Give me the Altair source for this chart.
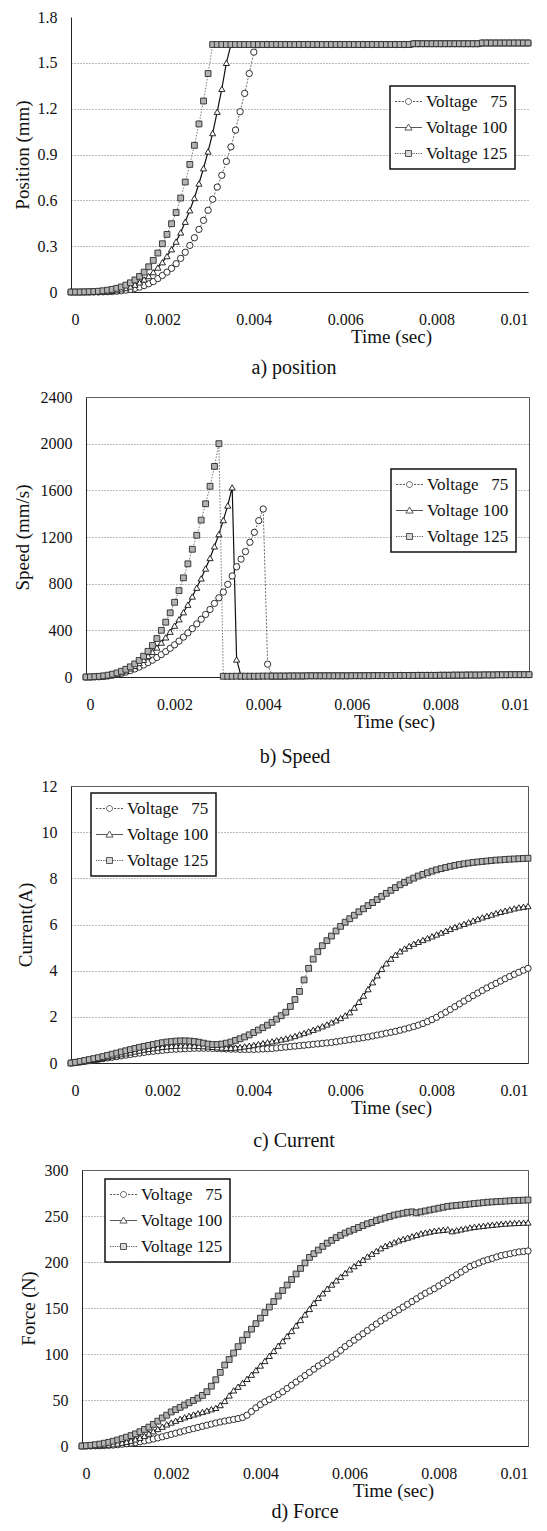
import altair as alt
import pandas as pd

FONT = "Liberation Serif"

# sampling grid: 0 .. 0.01 s every 0.0001 s
time_s = [round(i * 0.0001, 4) for i in range(101)]
series_names = ["Voltage \u200775", "Voltage 100", "Voltage 125"]
x_ticks = [0, 0.002, 0.004, 0.006, 0.008, 0.01]

# ---------------- a) position (mm) ----------------
pos75 = [
    0, 0, 0, 0, 0, 0, 0, 0.001, 0.002, 0.003,
    0.005, 0.008, 0.012, 0.017, 0.024, 0.032, 0.042, 0.054, 0.068, 0.088,
    0.108, 0.13, 0.155, 0.185, 0.22, 0.26, 0.305, 0.355, 0.41, 0.469,
    0.535, 0.607, 0.687, 0.764, 0.855, 0.95, 1.06, 1.18, 1.3, 1.43,
    1.57, 1.62, 1.62, 1.62, 1.62, 1.62, 1.62, 1.62, 1.62, 1.62,
    1.62, 1.62, 1.62, 1.62, 1.62, 1.62, 1.62, 1.62, 1.62, 1.62,
    1.62, 1.62, 1.62, 1.62, 1.62, 1.62, 1.62, 1.62, 1.62, 1.62,
    1.62, 1.62, 1.62, 1.62, 1.62, 1.625, 1.625, 1.625, 1.625, 1.625,
    1.625, 1.625, 1.625, 1.625, 1.625, 1.625, 1.625, 1.625, 1.625, 1.625,
    1.63, 1.63, 1.63, 1.63, 1.63, 1.63, 1.63, 1.63, 1.63, 1.63,
    1.63]
pos100 = [
    0, 0, 0, 0, 0, 0.001, 0.002, 0.003, 0.005, 0.008,
    0.012, 0.018, 0.026, 0.036, 0.048, 0.063, 0.082, 0.104, 0.13, 0.16,
    0.195, 0.235, 0.28, 0.33, 0.39, 0.46, 0.535, 0.615, 0.71, 0.81,
    0.92, 1.04, 1.18, 1.33, 1.5, 1.62, 1.62, 1.62, 1.62, 1.62,
    1.62, 1.62, 1.62, 1.62, 1.62, 1.62, 1.62, 1.62, 1.62, 1.62,
    1.62, 1.62, 1.62, 1.62, 1.62, 1.62, 1.62, 1.62, 1.62, 1.62,
    1.62, 1.62, 1.62, 1.62, 1.62, 1.62, 1.62, 1.62, 1.62, 1.62,
    1.62, 1.62, 1.62, 1.62, 1.62, 1.625, 1.625, 1.625, 1.625, 1.625,
    1.625, 1.625, 1.625, 1.625, 1.625, 1.625, 1.625, 1.625, 1.625, 1.625,
    1.63, 1.63, 1.63, 1.63, 1.63, 1.63, 1.63, 1.63, 1.63, 1.63,
    1.63]
pos125 = [
    0, 0, 0, 0.001, 0.002, 0.003, 0.005, 0.008, 0.012, 0.017,
    0.024, 0.033, 0.045, 0.06, 0.079, 0.102, 0.13, 0.165, 0.207, 0.255,
    0.316, 0.377, 0.447, 0.52, 0.615, 0.72, 0.835, 0.96, 1.1, 1.25,
    1.43, 1.62, 1.62, 1.62, 1.62, 1.62, 1.62, 1.62, 1.62, 1.62,
    1.62, 1.62, 1.62, 1.62, 1.62, 1.62, 1.62, 1.62, 1.62, 1.62,
    1.62, 1.62, 1.62, 1.62, 1.62, 1.62, 1.62, 1.62, 1.62, 1.62,
    1.62, 1.62, 1.62, 1.62, 1.62, 1.62, 1.62, 1.62, 1.62, 1.62,
    1.62, 1.62, 1.62, 1.62, 1.62, 1.625, 1.625, 1.625, 1.625, 1.625,
    1.625, 1.625, 1.625, 1.625, 1.625, 1.625, 1.625, 1.625, 1.625, 1.625,
    1.63, 1.63, 1.63, 1.63, 1.63, 1.63, 1.63, 1.63, 1.63, 1.63,
    1.63]

# ---------------- b) speed (mm/s) ----------------
sp75 = [
    0, 0, 1, 2, 5, 9, 15, 22, 31, 42,
    55, 69, 85, 103, 123, 144, 167, 192, 218, 246,
    276, 308, 342, 378, 415, 455, 495, 536, 579, 631,
    679, 728, 794, 866, 945, 1010, 1075, 1155, 1240, 1340,
    1440, 110, 8, 8, 8, 8, 9, 9, 9, 9,
    10, 10, 10, 10, 10, 10, 10, 10, 10, 10,
    11, 11, 11, 11, 11, 12, 12, 12, 12, 12,
    13, 13, 13, 13, 13, 14, 14, 14, 14, 14,
    15, 15, 15, 16, 16, 16, 17, 17, 17, 17,
    18, 18, 18, 19, 19, 19, 20, 20, 20, 20,
    20]
sp100 = [
    0, 0, 1, 3, 7, 12, 19, 29, 41, 56,
    74, 95, 120, 148, 180, 215, 253, 295, 340, 388,
    440, 495, 555, 620, 690, 765, 845, 930, 1020, 1120,
    1225, 1345, 1470, 1625, 150, 8, 7, 7, 7, 7,
    8, 8, 8, 8, 8, 8, 9, 9, 9, 9,
    10, 10, 10, 10, 10, 10, 10, 10, 10, 10,
    11, 11, 11, 11, 11, 12, 12, 12, 12, 12,
    13, 13, 13, 13, 13, 14, 14, 14, 14, 14,
    15, 15, 15, 16, 16, 16, 17, 17, 17, 17,
    18, 18, 18, 19, 19, 19, 20, 20, 20, 20,
    20]
sp125 = [
    0, 1, 3, 6, 10, 16, 24, 35, 49, 66,
    87, 112, 142, 178, 220, 270, 330, 400, 470, 550,
    640, 740, 850, 970, 1095, 1215, 1345, 1485, 1635, 1805,
    2000, 6, 6, 6, 7, 7, 7, 7, 7, 7,
    8, 8, 8, 8, 8, 8, 9, 9, 9, 9,
    10, 10, 10, 10, 10, 10, 10, 10, 10, 10,
    11, 11, 11, 11, 11, 12, 12, 12, 12, 12,
    13, 13, 13, 13, 13, 14, 14, 14, 14, 14,
    15, 15, 15, 16, 16, 16, 17, 17, 17, 17,
    18, 18, 18, 19, 19, 19, 20, 20, 20, 20,
    20]

# ---------------- c) current (A) ----------------
cur75 = [
    0, 0.02, 0.04, 0.07, 0.1, 0.13, 0.16, 0.19, 0.22, 0.25,
    0.28, 0.31, 0.34, 0.37, 0.4, 0.43, 0.46, 0.49, 0.51, 0.53,
    0.55, 0.57, 0.59, 0.6, 0.61, 0.62, 0.63, 0.64, 0.64, 0.64,
    0.64, 0.63, 0.63, 0.62, 0.61, 0.6, 0.6, 0.59, 0.59, 0.59,
    0.59, 0.6, 0.61, 0.62, 0.63, 0.65, 0.67, 0.69, 0.71, 0.73,
    0.75, 0.77, 0.79, 0.81, 0.83, 0.85, 0.87, 0.89, 0.92, 0.95,
    0.98, 1.01, 1.04, 1.07, 1.1, 1.13, 1.17, 1.21, 1.25, 1.29,
    1.33, 1.37, 1.42, 1.47, 1.52, 1.58, 1.64, 1.71, 1.79, 1.88,
    1.98, 2.09, 2.2, 2.32, 2.44, 2.56, 2.68, 2.8, 2.92, 3.03,
    3.14, 3.25, 3.35, 3.45, 3.55, 3.65, 3.75, 3.84, 3.93, 4.02,
    4.1]
cur100 = [
    0, 0.02, 0.05, 0.08, 0.11, 0.14, 0.18, 0.22, 0.26, 0.3,
    0.34, 0.38, 0.42, 0.46, 0.5, 0.54, 0.58, 0.61, 0.64, 0.67,
    0.7, 0.72, 0.74, 0.75, 0.76, 0.76, 0.76, 0.75, 0.74, 0.73,
    0.72, 0.7, 0.68, 0.67, 0.66, 0.66, 0.67, 0.69, 0.72, 0.75,
    0.78, 0.82, 0.86, 0.9, 0.94, 0.98, 1.02, 1.06, 1.11, 1.17,
    1.24, 1.3, 1.37, 1.44, 1.51, 1.59, 1.67, 1.76, 1.85, 1.95,
    2.06, 2.2, 2.4, 2.65, 2.92, 3.2, 3.5, 3.8, 4.08, 4.32,
    4.52, 4.69, 4.84, 4.96, 5.07, 5.17, 5.25, 5.33, 5.41, 5.49,
    5.57, 5.65, 5.73, 5.81, 5.89, 5.96, 6.03, 6.1, 6.17, 6.24,
    6.31, 6.37, 6.43, 6.49, 6.55, 6.6, 6.65, 6.7, 6.74, 6.77,
    6.8]
cur125 = [
    0, 0.03, 0.07, 0.11, 0.15, 0.19, 0.23, 0.28, 0.33, 0.38,
    0.43, 0.48, 0.53, 0.58, 0.63, 0.68, 0.72, 0.76, 0.8, 0.84,
    0.88, 0.91, 0.93, 0.95, 0.96, 0.96, 0.95, 0.93, 0.9, 0.86,
    0.82, 0.8, 0.8, 0.82, 0.86, 0.91, 0.98, 1.05, 1.13, 1.22,
    1.32, 1.43, 1.53, 1.64, 1.76, 1.9, 2.05, 2.2, 2.45, 2.75,
    3.1, 3.6, 4.1, 4.5, 4.82, 5.08, 5.3, 5.5, 5.72, 5.92,
    6.1, 6.25, 6.4, 6.55, 6.68, 6.82, 6.95, 7.08, 7.22, 7.35,
    7.48, 7.6, 7.72, 7.82, 7.92, 8.01, 8.1, 8.17, 8.24, 8.31,
    8.37, 8.42, 8.47, 8.52, 8.56, 8.6, 8.63, 8.66, 8.69, 8.71,
    8.73, 8.75, 8.77, 8.79, 8.8, 8.82, 8.83, 8.84, 8.85, 8.86,
    8.87]

# ---------------- d) force (N) ----------------
f75 = [
    0, 0, 0.1, 0.2, 0.3, 0.5, 0.7, 1.0, 1.4, 1.9,
    2.5, 3.1, 3.8, 4.6, 5.5, 6.5, 7.6, 8.8, 10, 11.3,
    12.6, 13.9, 15.2, 16.5, 17.8, 19, 20.2, 21.4, 22.6, 23.8,
    25, 26.1, 27.1, 28, 28.9, 29.8, 31, 33.5, 37.5, 41.5,
    45, 48, 50.5, 53, 56, 59, 62.5, 66, 69.5, 73,
    76.5, 80, 83.5, 87, 90, 93, 96.5, 100, 104, 108,
    111.5, 115, 118.5, 122, 125.5, 129, 132.5, 136, 139, 142,
    145, 148, 151, 154, 157, 160, 163, 166, 168.5, 171,
    174, 177, 180, 183, 186, 189, 192, 195, 197, 199,
    201, 202.5, 204, 205.5, 207, 208, 209, 210, 211, 211.5,
    212]
f100 = [
    0, 0.1, 0.3, 0.5, 0.8, 1.1, 1.5, 2.0, 2.7, 3.6,
    4.6, 5.8, 7.2, 9.0, 11, 13.5, 16, 18.5, 21, 23.5,
    25.5, 27.5, 29.5, 31.2, 32.8, 34.3, 35.6, 37, 38.5, 40,
    41.5, 44.5, 49, 55, 60.5, 64.5, 68.5, 73, 77.5, 82.5,
    87.5, 92.5, 98, 103.5, 109, 114, 119.5, 125, 131, 137,
    143, 149, 155.5, 161, 166, 171, 175.5, 180, 184, 188,
    192, 195.5, 199, 202.5, 206, 209, 212, 215, 217.5, 219.5,
    221.5, 223.5, 225, 226.5, 228, 229.5, 231, 232, 233, 234,
    234.5, 235, 235.5, 233.5, 234.5, 235.5, 236.5, 237.5, 238.2, 238.8,
    239.4, 240, 240.5, 241, 241.4, 241.8, 242.1, 242.4, 242.6, 242.8,
    243]
f125 = [
    0, 0.3, 0.8, 1.4, 2.1, 3.0, 4.0, 5.2, 6.5, 8.0,
    9.6, 11.3, 13.2, 15.5, 18, 20.5, 23.5, 27, 30.5, 33.5,
    37, 39.5, 42, 44.5, 47, 49.5, 52, 55, 59, 65,
    72, 80, 88, 94, 101, 108, 115, 121, 127, 133,
    139, 145, 151, 157, 163, 169, 175, 181, 187, 193,
    199, 205, 209, 213, 217, 220.5, 223.5, 226.5, 229, 231.5,
    233.5, 235.5, 237.5, 239.5, 241.5, 243, 245, 246.5, 248, 249.5,
    251, 252, 253, 254, 254.5, 253.5, 254.5, 255.5, 256.5, 257.5,
    258.5, 259.5, 260.5, 261, 261.5, 262, 262.5, 263, 263.5, 264,
    264.5, 265, 265.3, 265.6, 265.9, 266.2, 266.5, 266.8, 267, 267.2,
    267.4]

# ---------------- styles ----------------
styles = [
    dict(shape="circle", fill="white", stroke="#1a1a1a", size=40,
         line="#444444", lw=0.8, dash=[2, 1.5]),
    dict(shape="triangle-up", fill="white", stroke="#111111", size=38,
         line="#111111", lw=1.2, dash=None),
    dict(shape="square", fill="#b3b3b3", stroke="#2a2a2a", size=34,
         line="#555555", lw=0.8, dash=[1.5, 1.5]),
]

# legend symbols: line segment + marker (path units scaled by sqrt(size)/2 = 3 px)
legend_paths = [
    "M-4.5,0H-3.8M-3.35,0H-2.65M-2.2,0H-1.5M1.5,0H2.2M2.65,0H3.35M3.8,0H4.5"
    "M-1,0A1,1,0,1,1,1,0A1,1,0,1,1,-1,0Z",
    "M-4.5,0H-0.7M0.7,0H4.5M0,-1.15L1.2,0.85L-1.2,0.85Z",
    "M-4.5,0H-4.1M-3.7,0H-3.3M-2.9,0H-2.5M-2.1,0H-1.7M-1.4,0H-1.1"
    "M1.1,0H1.4M1.7,0H2.1M2.5,0H2.9M3.3,0H3.7M4.1,0H4.5"
    "M-1,-1H1V1H-1Z",
]
legend_fills = ["white", "white", "#b3b3b3"]

spacer_df = pd.DataFrame({"z": [0]})


def make_panel(values_list, ymax, yticks, yfmt, ytitle, w, h, ytitle_x,
               xtitle_x, legend_x, legend_y, caption, caption_dx,
               caption_offset, framed, hide_top_grid, lead):
    frames = []
    for name, vals in zip(series_names, values_list):
        frames.append(pd.DataFrame({"t": time_s, "v": vals, "s": name}))
    df = pd.concat(frames, ignore_index=True)

    xenc = alt.X(
        "t:Q",
        scale=alt.Scale(domain=[0, 0.01], nice=False),
        axis=alt.Axis(values=x_ticks, format="~g", title="Time (sec)",
                      titleX=xtitle_x, titleY=44, titleAlign="center",
                      titleBaseline="middle", grid=False, ticks=False,
                      tickSize=0, labelPadding=19, domainColor="#222222",
                      labelFont=FONT, labelFontSize=16, titleFont=FONT,
                      titleFontSize=19, titleFontWeight="normal",
                      labelColor="#111111", titleColor="#111111"),
    )
    yax = dict(values=yticks, format=yfmt, title=ytitle, titleX=ytitle_x,
               titleY=h / 2, titleAngle=270, titleAlign="center",
               titleBaseline="middle", grid=True, gridColor="#777777",
               gridDash=[1, 2], ticks=False, tickSize=0, labelPadding=14,
               domainColor="#222222", labelFont=FONT, labelFontSize=16,
               titleFont=FONT, titleFontSize=19, titleFontWeight="normal",
               labelColor="#111111", titleColor="#111111")
    if hide_top_grid:
        yax["gridOpacity"] = {"condition": {"test": f"datum.value >= {ymax}",
                                            "value": 0}, "value": 1}
    yenc = alt.Y("v:Q", scale=alt.Scale(domain=[0, ymax], nice=False),
                 axis=alt.Axis(**yax))

    base = alt.Chart(df)
    layers = []
    for name, st in zip(series_names, styles):
        kw = dict(stroke=st["line"], strokeWidth=st["lw"])
        if st["dash"]:
            kw["strokeDash"] = st["dash"]
        layers.append(base.transform_filter(alt.datum.s == name)
                      .mark_line(**kw).encode(x=xenc, y=yenc))
    for name, st in zip(series_names, styles):
        layers.append(base.transform_filter(alt.datum.s == name)
                      .mark_point(shape=st["shape"], filled=True,
                                  fill=st["fill"], stroke=st["stroke"],
                                  strokeWidth=0.9, size=st["size"], opacity=1)
                      .encode(x=xenc, y=yenc))

    leg = alt.Legend(title=None, orient="none", legendX=legend_x,
                     legendY=legend_y, labelFont=FONT, labelFontSize=17,
                     labelColor="#111111", symbolSize=36, symbolStrokeWidth=1,
                     symbolOffset=3, labelOffset=9, rowPadding=8,
                     padding=7, strokeColor="#111111", fillColor="white",
                     labelLimit=200)
    legend_layer = base.transform_filter("false").mark_point(filled=True).encode(
        shape=alt.Shape("s:N", scale=alt.Scale(domain=series_names,
                                               range=legend_paths), legend=leg),
        fill=alt.Fill("s:N", scale=alt.Scale(domain=series_names,
                                             range=legend_fills), legend=leg),
        stroke=alt.Stroke("s:N", scale=alt.Scale(domain=series_names,
                                                 range=["#111111"] * 3),
                          legend=leg),
    )
    layers.append(legend_layer)

    panel = alt.layer(*layers).properties(
        width=w, height=h,
        title=alt.TitleParams(caption, orient="bottom", anchor="start",
                              frame="group", align="center", dx=caption_dx,
                              offset=caption_offset, font=FONT, fontSize=20,
                              fontWeight="normal", color="#111111"),
        view=alt.ViewBackground(stroke="#555555" if framed else "transparent",
                                strokeWidth=1),
    )
    # an invisible spacer in front, so each plot is packed after its own
    # axis title (keeps each panel's own left offset)
    spacer = alt.Chart(spacer_df).transform_filter("false").mark_point(
        opacity=0, size=0
    ).properties(
        width=lead, height=1,
        view=alt.ViewBackground(stroke="transparent"),
    )
    return alt.hconcat(spacer, panel, spacing=0).resolve_scale(
        shape="independent", fill="independent", stroke="independent"
    ).resolve_legend(
        shape="independent", fill="independent", stroke="independent"
    )


pa = make_panel([pos75, pos100, pos125], 1.8,
                [0, 0.3, 0.6, 0.9, 1.2, 1.5, 1.8], "~g", "Position (mm)",
                457, 275, -49, 320, 319, 69, "a) position", 223, 12,
                False, True, 1)
pb = make_panel([sp75, sp100, sp125], 2400,
                [0, 400, 800, 1200, 1600, 2000, 2400], "d", "Speed (mm/s)",
                443, 280, -64, 308, 305, 72, "b) Speed", 209, 16,
                True, False, 1)
pc = make_panel([cur75, cur100, cur125], 12,
                [0, 2, 4, 6, 8, 10, 12], "d", "Current(A)",
                457, 277, -46, 320, 20, 7, "c) Current", 223, 14,
                True, False, 4)
pd_ = make_panel([f75, f100, f125], 300,
                 [0, 50, 100, 150, 200, 250, 300], "d", "Force (N)",
                 446, 276, -54, 311, 23, 9, "d) Force", 223, 2,
                 True, False, 7)

chart = alt.vconcat(pa, pb, pc, pd_, spacing=9).resolve_scale(
    shape="independent", fill="independent", stroke="independent"
).resolve_legend(
    shape="independent", fill="independent", stroke="independent"
).configure(
    padding={"left": 1, "top": 0, "right": 0, "bottom": 0},
    font=FONT,
).configure_axis(
    labelFont=FONT, labelFontSize=16, labelColor="#111111",
    titleFont=FONT, titleFontSize=19, titleFontWeight="normal",
    titleColor="#111111", domainWidth=1,
).configure_legend(strokeWidth=1.5)

chart.save("out.html", embed_options={"renderer": "svg", "actions": False})
